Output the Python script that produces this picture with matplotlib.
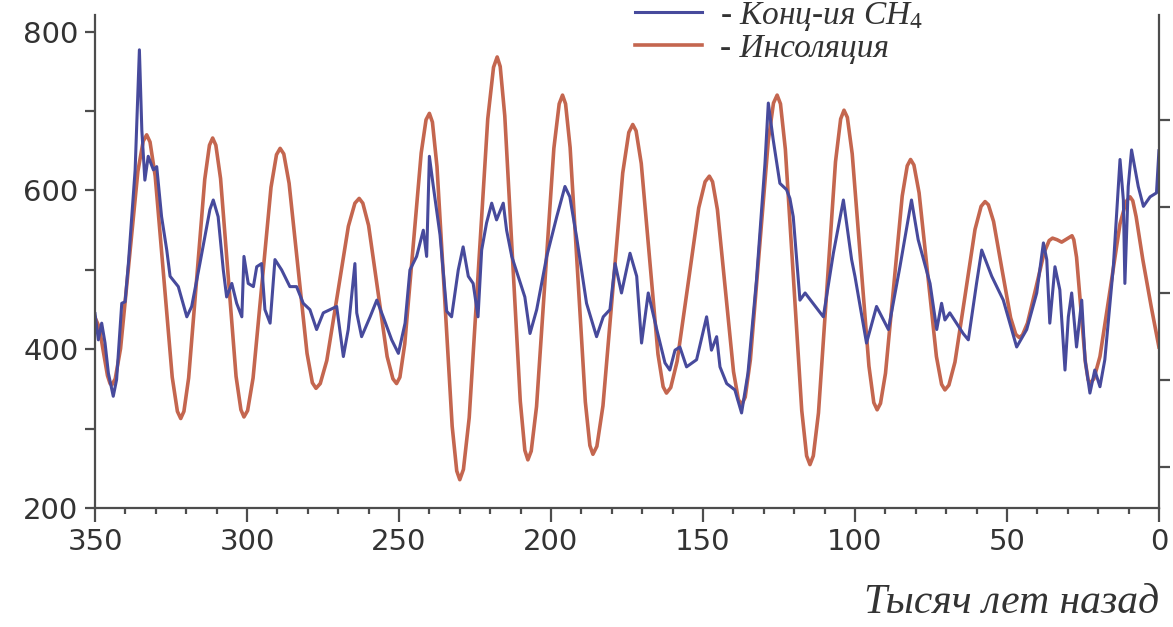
import matplotlib
matplotlib.use("Agg")
import matplotlib.pyplot as plt
from matplotlib.font_manager import FontProperties
from matplotlib.ticker import MultipleLocator

plt.rcParams['font.family'] = ['DejaVu Sans']
plt.rcParams['mathtext.fontset'] = 'custom'
plt.rcParams['mathtext.rm'] = 'Liberation Serif'
plt.rcParams['mathtext.it'] = 'Liberation Serif:italic'

# Summer insolation, drawn on the CH4 scale (thousand years ago, value)
ins_age = [350, 348.6, 347.25, 345.9, 345.05, 344.5, 343.35, 341.6, 338.75, 335.9, 334.15, 333.0,
           331.9, 330.2, 327.4, 324.6, 322.9, 321.8, 320.75, 319.2, 316.55, 313.9, 312.35, 311.3,
           310.25, 308.7, 306.15, 303.6, 302.0, 301.0, 299.8, 298.0, 295.05, 292.1, 290.3, 289.1,
           287.9, 286.15, 283.2, 280.25, 278.5, 277.3, 275.9, 273.75, 270.2, 266.65, 264.5, 263.1,
           261.9, 260.0, 256.95, 253.9, 252.0, 250.8, 249.7, 248.1, 245.4, 242.7, 241.1, 240.0,
           239.0, 237.5, 235.0, 232.5, 231.0, 230.0, 228.8, 226.9, 223.85, 220.8, 218.9, 217.7,
           216.7, 215.2, 212.65, 210.1, 208.6, 207.6, 206.5, 204.75, 201.9, 199.05, 197.3, 196.2,
           195.2, 193.7, 191.2, 188.7, 187.2, 186.2, 184.9, 182.9, 179.65, 176.4, 174.4, 173.1,
           172.0, 170.3, 167.55, 164.8, 163.1, 162.0, 160.6, 158.5, 154.95, 151.4, 149.3, 147.9,
           146.85, 145.25, 142.6, 139.95, 138.35, 137.3, 136.1, 134.4, 131.45, 128.5, 126.8, 125.6,
           124.5, 122.9, 120.2, 117.5, 115.9, 114.8, 113.7, 112.0, 109.2, 106.4, 104.7, 103.6,
           102.5, 100.9, 98.15, 95.4, 93.8, 92.7, 91.6, 89.95, 87.2, 84.45, 82.8, 81.7,
           80.6, 78.9, 76.05, 73.2, 71.5, 70.4, 69.1, 67.1, 63.8, 60.5, 58.5, 57.2,
           56.1, 54.4, 51.6, 48.8, 47.1, 46.0, 44.9, 43.25, 40.5, 37.75, 36.1, 35.0,
           33.5, 32.0, 30.3, 28.6, 28.0, 27.1, 25.65, 24.2, 23.3, 22.7, 21.4, 19.4,
           16.1, 12.8, 10.8, 9.5, 8.6, 7.5, 5.3, 2.5, 0]
ins_val = [440, 428, 397, 367, 357, 355, 363, 401, 512, 624, 662, 670,
           661, 618, 491, 365, 322, 313, 322, 364, 489, 614, 657, 666,
           657, 615, 490, 366, 324, 315, 323, 364, 484, 604, 645, 653,
           646, 609, 502, 395, 358, 351, 357, 386, 470, 555, 584, 590,
           584, 556, 473, 391, 363, 357, 365, 407, 527, 647, 689, 697,
           686, 630, 466, 303, 247, 236, 249, 314, 502, 690, 755, 768,
           756, 694, 514, 335, 273, 261, 272, 328, 490, 653, 709, 720,
           709, 654, 494, 334, 279, 268, 278, 329, 475, 622, 673, 683,
           675, 634, 514, 394, 353, 345, 352, 385, 481, 578, 611, 618,
           611, 576, 474, 372, 337, 330, 340, 387, 525, 663, 710, 720,
           709, 652, 487, 323, 266, 255, 266, 320, 478, 636, 690, 701,
           692, 646, 512, 379, 333, 324, 332, 370, 481, 593, 631, 639,
           632, 597, 494, 391, 356, 349, 355, 384, 467, 551, 580, 586,
           582, 561, 500, 440, 419, 415, 418, 433, 477, 522, 537, 540,
           538, 535, 539, 543, 538, 516, 450, 384, 362, 357, 363, 391,
           474, 558, 586, 592, 587, 567, 513, 453, 403]

# CH4 concentration, ppb
ch4_age = [350, 348.9, 347.8, 346.7, 345.6, 344.0, 342.9, 341.2, 340.1, 339.0, 336.8, 335.4,
           334.6, 333.6, 332.5, 330.8, 329.7, 328.1, 326.4, 325.3, 322.6, 319.8, 318.2, 315.5,
           312.2, 311.1, 309.5, 307.8, 306.7, 305.0, 303.4, 301.7, 301.0, 299.6, 297.9, 296.8,
           295.2, 294.1, 292.4, 290.8, 288.6, 285.9, 283.7, 281.5, 279.3, 277.1, 274.9, 272.7,
           270.5, 268.3, 266.7, 264.5, 263.9, 262.3, 259.5, 257.3, 255.2, 252.4, 250.2, 248.0,
           246.4, 244.2, 242.0, 240.9, 240.0, 238.7, 236.5, 234.3, 232.7, 230.5, 228.9, 227.2,
           225.6, 224.0, 222.8, 221.2, 219.5, 217.9, 215.7, 214.6, 212.9, 210.8, 208.6, 206.9,
           204.7, 201.4, 198.1, 195.4, 193.8, 191.6, 188.3, 185.0, 182.8, 180.6, 178.9, 176.8,
           174.0, 171.8, 170.2, 168.0, 165.2, 162.5, 160.9, 159.2, 157.6, 155.4, 152.1, 148.8,
           147.2, 145.5, 144.4, 142.2, 139.5, 137.3, 135.2, 132.4, 129.6, 128.5, 126.9, 124.7,
           122.5, 121.4, 120.3, 118.1, 116.4, 110.4, 107.1, 103.8, 101.1, 100.0, 96.2, 92.9,
           89.0, 85.2, 81.4, 79.2, 75.3, 73.1, 71.5, 70.4, 68.8, 66.6, 64.4, 62.7,
           60.0, 58.3, 55.0, 51.2, 46.8, 43.5, 40.2, 38.0, 36.9, 35.9, 34.2, 32.6,
           30.9, 29.8, 28.7, 27.1, 25.4, 24.3, 22.7, 21.1, 19.4, 17.8, 15.0, 12.8,
           11.7, 11.2, 10.1, 9.0, 6.8, 5.1, 2.9, 0.8, 0.0]
ch4_val = [445, 412, 433, 408, 370, 341, 362, 458, 460, 509, 626, 777,
           676, 613, 643, 626, 630, 567, 525, 492, 479, 441, 454, 508,
           576, 588, 567, 500, 466, 483, 458, 441, 517, 483, 479, 504,
           508, 450, 433, 513, 500, 479, 479, 458, 450, 425, 446, 450,
           454, 391, 425, 508, 446, 416, 441, 462, 441, 412, 395, 433,
           500, 517, 550, 517, 643, 605, 544, 448, 441, 500, 529, 492,
           483, 441, 525, 559, 584, 563, 584, 550, 517, 492, 466, 420,
           450, 517, 567, 605, 592, 542, 458, 416, 441, 450, 508, 471,
           521, 492, 408, 471, 425, 383, 374, 399, 403, 378, 387, 441,
           399, 416, 378, 357, 349, 320, 370, 487, 634, 710, 664, 609,
           601, 590, 567, 462, 471, 441, 521, 588, 513, 492, 408, 454,
           425, 504, 588, 538, 483, 425, 458, 437, 446, 433, 420, 412,
           483, 525, 492, 462, 403, 425, 471, 534, 513, 433, 504, 475,
           374, 441, 471, 403, 462, 387, 345, 374, 353, 387, 504, 639,
           588, 483, 605, 651, 605, 580, 592, 597, 650]

ins_color = '#c4664f'
ch4_color = '#474a9c'
axis_color = '#4d4d4d'
text_color = '#333333'

fig = plt.figure(figsize=(11.73, 6.27), dpi=100)
ax = fig.add_axes([0.081, 0.1893, 0.907, 0.787])

ins_line, = ax.plot(ins_age, ins_val, color=ins_color, lw=2.6, solid_joinstyle='round')
ch4_line, = ax.plot(ch4_age, ch4_val, color=ch4_color, lw=2.2, solid_joinstyle='round')

ax.set_xlim(350, 0)
ax.set_ylim(200, 821)
ax.xaxis.set_major_locator(MultipleLocator(50))
ax.xaxis.set_minor_locator(MultipleLocator(10))
ax.yaxis.set_major_locator(MultipleLocator(200))
ax.yaxis.set_minor_locator(MultipleLocator(100))

for side in ['top', 'right']:
    ax.spines[side].set_visible(False)
for side in ['left', 'bottom']:
    ax.spines[side].set_color(axis_color)
    ax.spines[side].set_linewidth(1.6)

ax.tick_params(axis='y', which='both', direction='out', length=7, width=1.6,
               color=axis_color, labelsize=21, labelcolor=text_color, pad=5)
ax.tick_params(axis='x', which='major', direction='out', length=10, width=1.6,
               color=axis_color, labelsize=21, labelcolor=text_color, pad=4)
ax.tick_params(axis='x', which='minor', direction='out', length=4, width=1.6,
               color=axis_color)

# right-hand insolation scale, ticks only
ax2 = ax.twinx()
ax2.set_ylim(430.5, 544.2)
ax2.set_yticks([440, 460, 480, 500, 520])
ax2.tick_params(axis='y', direction='out', length=8, width=1.6, color=axis_color,
                labelright=False)
for side in ['top', 'left', 'bottom']:
    ax2.spines[side].set_visible(False)
ax2.spines['right'].set_color(axis_color)
ax2.spines['right'].set_linewidth(1.6)

label_font = FontProperties(family='Liberation Serif', style='italic', size=30)
ax.set_xlabel('Тысяч лет назад', loc='right', fontproperties=label_font,
              color=text_color, labelpad=20)

legend_font = FontProperties(family='Liberation Serif', style='italic', size=24)
leg = ax.legend([ch4_line, ins_line], ['- Конц-ия CH$_\\mathit{4}$', '- Инсоляция'],
                prop=legend_font, frameon=False, loc='upper left',
                bbox_to_anchor=(0.5413, 1.0), bbox_transform=fig.transFigure,
                handlelength=2.0, handletextpad=0.55, labelspacing=0.0,
                borderpad=0, borderaxespad=0)
for t in leg.get_texts():
    t.set_color(text_color)

fig.savefig('out.png', dpi=100, facecolor='white')
